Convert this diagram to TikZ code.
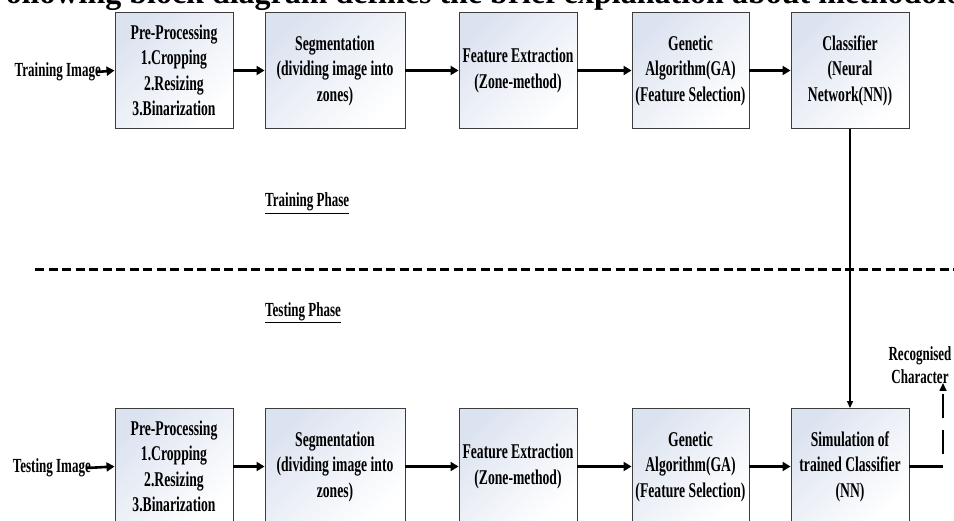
\documentclass[tikz,border=0pt]{standalone}
\usepackage{fontspec}
\setmainfont{Liberation Serif}
\newfontfamily\boxfont[FakeStretch=0.65]{Liberation Serif}
\usetikzlibrary{arrows.meta,positioning}
\definecolor{boxtint}{RGB}{220,227,240}
\definecolor{boxedge}{RGB}{60,60,60}
\tikzset{
  stagebox/.style={draw=boxedge, line width=0.9pt,
    top color=boxtint, bottom color=white, shading angle=45,
    minimum height=116pt, inner sep=0pt, align=center,
    font=\boxfont\bfseries\fontsize{21}{25.5}\selectfont},
  sidelbl/.style={inner sep=0pt, align=center,
    font=\boxfont\bfseries\fontsize{20}{23}\selectfont},
  flowarr/.style={-{Triangle[length=8pt,width=9pt]}, line width=2.6pt},
  feedarr/.style={-{Triangle[length=7pt,width=6pt]}, line width=1.3pt},
  outln/.style={line width=2.6pt},
  outdash/.style={-{Triangle[length=8pt,width=7pt]}, line width=1.6pt,
    dash pattern=on 24pt off 12pt, dash phase=24pt},
  splitln/.style={line width=3pt, dash pattern=on 9pt off 4.5pt},
}
\begin{document}
\begin{tikzpicture}[x=1pt,y=-1pt]
    \useasboundingbox (0,0) rectangle (954,521);
    % heading, cut off by the page edge
    \node[anchor=base west, inner sep=0pt, font=\bfseries\fontsize{32}{38}\selectfont] (heading) at (-14,4)
      {Following block diagram defines the brief explanation about methodology};
    % training row
    \node[stagebox, minimum width=118pt] (prep1) at (174,70.5) {Pre-Processing\\1.Cropping\\2.Resizing\\3.Binarization};
    \node[stagebox, minimum width=140pt] (seg1) at (335,70.5) {Segmentation\\(dividing image into\\zones)};
    \node[stagebox, minimum width=118pt] (feat1) at (518,70.5) {Feature Extraction\\(Zone-method)};
    \node[stagebox, minimum width=117pt] (gen1) at (690.5,70.5) {Genetic\\Algorithm(GA)\\(Feature Selection)};
    \node[stagebox, minimum width=118pt] (cls) at (850,70.5) {Classifier\\(Neural\\Network(NN))};
    \node[sidelbl, anchor=east] (trainimg) at (101,72) {Training Image};
    \draw[flowarr] ([xshift=-4pt]trainimg.east) -- (prep1.west);
    \draw[flowarr] (prep1) -- (seg1);
    \draw[flowarr] (seg1) -- (feat1);
    \draw[flowarr] (feat1) -- (gen1);
    \draw[flowarr] (gen1) -- (cls);
    % phase split
    \node[sidelbl, anchor=base west] (trainph) at (265,207) {\underline{Training Phase}};
    \draw[splitln] (35,270) -- (954,270);
    \node[sidelbl, anchor=base west] (testph) at (265,316.5) {\underline{Testing Phase}};
    % testing row
    \node[stagebox, minimum width=118pt] (prep2) at (174,466.5) {Pre-Processing\\1.Cropping\\2.Resizing\\3.Binarization};
    \node[stagebox, minimum width=140pt] (seg2) at (335,466.5) {Segmentation\\(dividing image into\\zones)};
    \node[stagebox, minimum width=118pt] (feat2) at (518,466.5) {Feature Extraction\\(Zone-method)};
    \node[stagebox, minimum width=117pt] (gen2) at (690.5,466.5) {Genetic\\Algorithm(GA)\\(Feature Selection)};
    \node[stagebox, minimum width=118pt] (sim) at (850,466.5) {Simulation of\\trained Classifier\\(NN)};
    \node[sidelbl, anchor=east] (testimg) at (91,468) {Testing Image};
    \draw[flowarr] ([xshift=-4pt]testimg.east) -- (prep2.west);
    \draw[flowarr] (prep2) -- (seg2);
    \draw[flowarr] (seg2) -- (feat2);
    \draw[flowarr] (feat2) -- (gen2);
    \draw[flowarr] (gen2) -- (sim);
    % trained classifier handed down
    \draw[feedarr] (cls.south) -- (sim.north);
    % output
    \coordinate (outbend) at (943,466.5);
    \coordinate (outtip) at (943,383);
    \node[sidelbl] (recog) at (920,365) {Recognised\\Character};
    \draw[outln] (sim.east) -- (outbend);
    \draw[outdash] (outbend) -- (outtip);
\end{tikzpicture}
\end{document}
